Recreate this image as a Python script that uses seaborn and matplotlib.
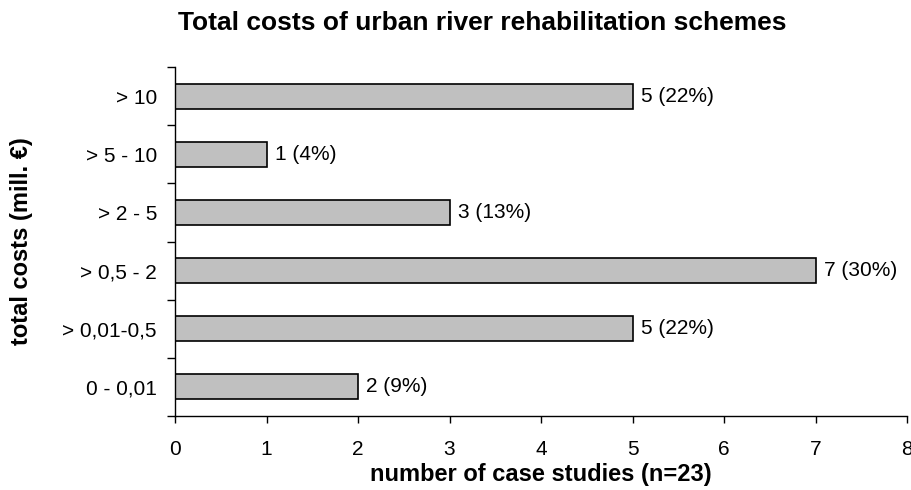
import matplotlib
matplotlib.use("Agg")
import matplotlib.pyplot as plt
import seaborn as sns
import pandas as pd

categories = ["> 10", "> 5 - 10", "> 2 - 5", "> 0,5 - 2", "> 0,01-0,5", "0 - 0,01"]
counts = [5, 1, 3, 7, 5, 2]
percents = [22, 4, 13, 30, 22, 9]

df = pd.DataFrame({"cat": categories, "n": counts})

sns.set_theme(style="white", rc={"text.color": "black", "axes.labelcolor": "black",
                                 "xtick.color": "black", "ytick.color": "black"})
plt.rcParams['font.family'] = ['Liberation Sans', 'DejaVu Sans']

W, H = 912, 490
fig = plt.figure(figsize=(W / 100, H / 100), dpi=100)
L, R, T, B = 175, 907, 67, 416
ax = fig.add_axes([L / W, 1 - B / H, (R - L) / W, (B - T) / H])

sns.barplot(data=df, x="n", y="cat", orient="h", color="#C0C0C0",
            edgecolor="black", linewidth=1.2, width=0.43, saturation=1, ax=ax)

for i, (v, p) in enumerate(zip(counts, percents)):
    ax.text(v + 0.09, i, f"{v} ({p}%)", va="center", ha="left", fontsize=15)

ax.set_xlim(0, 8)
ax.set_ylim(len(categories) - 0.5, -0.5)
ax.set_xticks(range(0, 9))
ax.tick_params(axis="x", length=5, width=1, direction="out", labelsize=15, pad=12, bottom=True)
ax.set_yticks([i - 0.5 for i in range(len(categories) + 1)], minor=False)
ax.set_yticklabels([])
ax.set_yticks(range(len(categories)), minor=True)
ax.set_yticklabels(categories, minor=True)
ax.tick_params(axis="y", which="major", length=6, width=1, direction="out", left=True)
ax.tick_params(axis="y", which="minor", length=0, labelsize=15, pad=13)

for s in ["top", "right"]:
    ax.spines[s].set_visible(False)
for s in ["left", "bottom"]:
    ax.spines[s].set_color("black")
    ax.spines[s].set_linewidth(1)

ax.set_xlabel("number of case studies (n=23)", fontsize=17, fontweight="bold", labelpad=3)
ax.set_ylabel("total costs (mill. €)", fontsize=17, fontweight="bold")
ax.yaxis.set_label_coords((33 - L) / (R - L), 0.5)
fig.text(482 / W, 1 - 30 / H, "Total costs of urban river rehabilitation schemes",
         ha="center", va="baseline", fontsize=19, fontweight="bold")

fig.savefig("out.png", dpi=100, facecolor="white")
